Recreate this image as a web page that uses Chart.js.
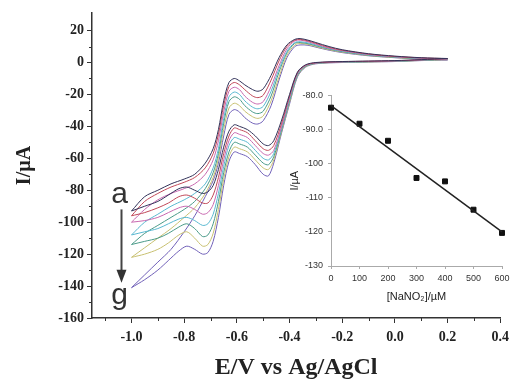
<!DOCTYPE html>
<html>
<head>
<meta charset="utf-8">
<script src="https://cdn.jsdelivr.net/npm/chart.js@4.4.1/dist/chart.umd.min.js"></script>
<style>
  html, body { margin: 0; padding: 0; background: #fff; }
  #wrap { position: relative; width: 515px; height: 380px; }
  #main { position: absolute; left: 0; top: 0; }
  #inset { position: absolute; left: 285px; top: 85px; }
</style>
</head>
<body>
<div id="wrap">
  <canvas id="main" width="515" height="380"></canvas>
  <canvas id="inset" width="230" height="225"></canvas>
</div>
<script>
/* ======================================================
   DATA
====================================================== */

// potentials (V) of the negative-going and positive-going sweeps
const sweepNeg = [0.2, 0.1, 0.0, -0.1, -0.2, -0.3, -0.34, -0.37, -0.40, -0.43, -0.46, -0.48, -0.50, -0.53, -0.56,
  -0.59, -0.61, -0.63, -0.65, -0.67, -0.69, -0.71, -0.73, -0.76, -0.79, -0.82, -0.86, -0.90, -0.95, -1.0];
const sweepPos = [-1.0, -0.95, -0.90, -0.85, -0.80, -0.76, -0.72, -0.69, -0.67, -0.65, -0.63, -0.61, -0.59, -0.57,
  -0.54, -0.52, -0.50, -0.47, -0.44, -0.41, -0.38, -0.36, -0.33, -0.30, -0.25, -0.2, -0.1, 0.0, 0.1, 0.2];

const curveNames = ["a", "b", "c", "d", "e", "f", "g"];
const curveColors = ["#33335a", "#c04858", "#c868b0", "#58b8d0", "#4a9a88", "#c8c070", "#7060b8"];

// current (µA) on the negative-going sweep
const negA = [2.5, 1.8, 1.2, 0.9, 0.6, 0.0, -1.5, -6, -20, -36, -49, -52, -51, -46, -42, -40, -39, -43, -53, -67, -77, -81, -82, -80, -78, -79, -83, -87, -90, -93];
const negB = [2.4, 1.7, 1.1, 0.8, 0.5, -0.2, -1.8, -6.5, -21, -38, -52, -55, -54, -49, -44, -42, -41, -46, -57, -72, -83, -88, -88, -85, -83, -84, -88, -91, -94, -96];
const negC = [2.3, 1.6, 1.0, 0.7, 0.4, -0.3, -2, -7, -22, -40, -55, -58, -57, -52, -47, -45, -44, -49, -61, -77, -89, -94, -95, -92, -90, -91, -94, -97, -99, -100];
const negD = [2.2, 1.5, 0.9, 0.6, 0.3, -0.4, -2.2, -7.5, -23, -41, -57, -61, -60, -55, -50, -48, -47, -52, -65, -82, -95, -101, -102, -99, -97, -98, -101, -104, -106, -108];
const negE = [2.0, 1.4, 0.8, 0.5, 0.2, -0.5, -2.5, -8, -24, -42, -59, -64, -63, -58, -53, -51, -50, -56, -69, -87, -101, -108, -109, -104, -101, -103, -107, -110, -112, -114];
const negF = [1.8, 1.3, 0.7, 0.4, 0.1, -0.6, -2.8, -8.5, -25, -43, -61, -67, -66, -61, -56, -54, -53, -59, -73, -92, -107, -114, -115, -110, -106, -108, -113, -117, -120, -122];
const negG = [1.6, 1.2, 0.6, 0.3, 0.0, -0.8, -3, -9, -26, -44, -63, -71, -70, -64, -59, -57, -56, -62, -77, -97, -112, -119, -120, -117, -115, -118, -124, -130, -136, -141];

// current (µA) on the positive-going sweep
const posA = [-93, -84, -80, -76, -73, -70, -63, -54, -42, -24, -12.5, -10, -11.5, -14, -17, -18, -16.5, -8, 3, 11, 14.5, 15, 14, 12.5, 10, 8, 5.5, 4, 3, 2.5];
const posB = [-96, -87, -82, -78, -75, -72, -66, -57, -45, -27, -15, -12.5, -14, -17, -21, -22, -20.5, -11, 1, 10, 14, 14.5, 13.5, 12, 9.5, 7.7, 5.3, 3.8, 2.9, 2.4];
const posC = [-100, -92, -86, -82, -79, -76, -70, -61, -49, -31, -18, -15.5, -17, -21, -25, -26, -24.5, -15, -2, 8.5, 13.5, 14, 13, 11.5, 9, 7.4, 5, 3.6, 2.7, 2.3];
const posD = [-108, -100, -95, -90, -86, -82, -76, -66, -54, -35, -21.5, -18.5, -20, -24, -28, -29, -27.5, -18, -4, 7, 12.5, 13, 12.3, 11, 8.7, 7.1, 4.8, 3.5, 2.6, 2.2];
const posE = [-114, -107, -102, -97, -92, -87, -79, -69, -57, -38, -24.5, -21.5, -23, -27, -31, -32, -30.5, -21, -6, 6, 12, 12.5, 11.8, 10.5, 8.4, 6.8, 4.6, 3.3, 2.4, 2.0];
const posF = [-122, -116, -110, -104, -97, -91, -82, -72, -60, -42, -28.5, -25.5, -27, -30.5, -34, -35, -33.5, -24, -9, 4.5, 11, 12, 11.3, 10, 8, 6.5, 4.4, 3.1, 2.2, 1.8];
const posG = [-141, -133, -125, -117, -106, -96, -84, -74, -63, -46, -32.5, -29.5, -31, -34.5, -38, -38.5, -36.5, -27, -11, 3, 10, 11, 10.8, 9.6, 7.7, 6.2, 4.2, 3.0, 2.1, 1.6];

const negCurves = [negA, negB, negC, negD, negE, negF, negG];
const posCurves = [posA, posB, posC, posD, posE, posF, posG];

// main axis ticks
const xTicks = [-1.0, -0.8, -0.6, -0.4, -0.2, 0.0, 0.2, 0.4];
const xMinor = [-1.1, -0.9, -0.7, -0.5, -0.3, -0.1, 0.1, 0.3];
const yTicks = [-160, -140, -120, -100, -80, -60, -40, -20, 0, 20];
const yMinor = [-150, -130, -110, -90, -70, -50, -30, -10, 10];

// inset: peak current vs nitrite concentration
const insetConc = [0, 100, 200, 300, 400, 500, 600];
const insetCurrent = [-83.6, -88.3, -93.3, -104.2, -105.2, -113.5, -120.3];
const fitConc = [0, 600];
const fitCurrent = [-83.0, -120.0];
const insetXTicks = [0, 100, 200, 300, 400, 500, 600];
const insetYTicks = [-130, -120, -110, -100, -90, -80];

/* ======================================================
   HELPERS
====================================================== */

const SERIF = "'Liberation Serif', 'Times New Roman', serif";
const SANS = "'Liberation Sans', Arial, sans-serif";

function toPoints(xs, ys) {
  return xs.map((x, i) => ({ x, y: ys[i] }));
}

const minorTicks = {
  id: "minorTicks",
  afterDraw(chart) {
    const { ctx, scales: { x, y } } = chart;
    ctx.save();
    ctx.strokeStyle = "#333";
    ctx.lineWidth = 1;
    ctx.beginPath();
    xMinor.forEach(v => {
      const px = Math.round(x.getPixelForValue(v)) + 0.5;
      ctx.moveTo(px, y.bottom);
      ctx.lineTo(px, y.bottom + 3);
    });
    yMinor.forEach(v => {
      const py = Math.round(y.getPixelForValue(v)) + 0.5;
      ctx.moveTo(x.left, py);
      ctx.lineTo(x.left - 3, py);
    });
    ctx.stroke();
    ctx.restore();
  }
};

// "a" -> "g" arrow inside the plot
const arrowLabels = {
  id: "arrowLabels",
  afterDatasetsDraw(chart) {
    const { ctx, scales: { x, y } } = chart;
    const ax = x.getPixelForValue(-1.038);
    const y0 = y.getPixelForValue(-92);
    const y1 = y.getPixelForValue(-138);
    ctx.save();
    ctx.fillStyle = "#333";
    ctx.strokeStyle = "#444";
    ctx.lineWidth = 2;
    ctx.beginPath();
    ctx.moveTo(ax, y0);
    ctx.lineTo(ax, y1 - 10);
    ctx.stroke();
    ctx.beginPath();
    ctx.moveTo(ax - 5, y1 - 13);
    ctx.lineTo(ax + 5, y1 - 13);
    ctx.lineTo(ax, y1);
    ctx.closePath();
    ctx.fill();
    ctx.font = "30px " + SANS;
    ctx.textAlign = "center";
    ctx.textBaseline = "alphabetic";
    ctx.fillText("a", x.getPixelForValue(-1.045), y.getPixelForValue(-88));
    ctx.fillText("g", x.getPixelForValue(-1.045), y.getPixelForValue(-151));
    ctx.restore();
  }
};

/* ======================================================
   MAIN CHART
====================================================== */

const cvDatasets = curveNames.map((name, i) => ({
  label: name,
  data: toPoints(sweepNeg, negCurves[i]).concat(toPoints(sweepPos, posCurves[i])),
  showLine: true,
  borderColor: curveColors[i],
  borderWidth: 1,
  pointRadius: 0,
  tension: 0.3,
  fill: false
}));

new Chart(document.getElementById("main"), {
  type: "scatter",
  data: { datasets: cvDatasets },
  options: {
    responsive: false,
    animation: false,
    devicePixelRatio: 1,
    layout: { padding: { top: 13, right: 12, left: 0, bottom: 0 } },
    plugins: { legend: { display: false }, tooltip: { enabled: false } },
    scales: {
      x: {
        type: "linear",
        min: -1.15,
        max: 0.4,
        afterBuildTicks: s => { s.ticks = xTicks.map(v => ({ value: v })); },
        afterFit: s => { s.height = 62; },
        ticks: {
          padding: 6,
          color: "#222",
          font: { family: SERIF, size: 14, weight: "bold" },
          callback: v => v.toFixed(1)
        },
        grid: { drawOnChartArea: false, tickLength: 5, color: "#333" },
        border: { color: "#333", width: 1.5 },
        title: {
          display: true,
          text: "E/V vs Ag/AgCl",
          color: "#222",
          padding: { top: 0, bottom: 0 },
          font: { family: SERIF, size: 24, weight: "bold", lineHeight: 1 }
        }
      },
      y: {
        min: -160,
        max: 31,
        afterBuildTicks: s => { s.ticks = yTicks.map(v => ({ value: v })); },
        afterFit: s => { s.width = 92; },
        ticks: {
          padding: 3,
          color: "#222",
          font: { family: SERIF, size: 14, weight: "bold" },
          callback: v => String(v)
        },
        grid: { drawOnChartArea: false, tickLength: 5, color: "#333" },
        border: { color: "#333", width: 1.5 },
        title: {
          display: true,
          text: "I/µA",
          color: "#222",
          padding: { top: 15, bottom: 0 },
          font: { family: SERIF, size: 20, weight: "bold", lineHeight: 1 }
        }
      }
    }
  },
  plugins: [minorTicks, arrowLabels]
});

/* ======================================================
   INSET CHART
====================================================== */

new Chart(document.getElementById("inset"), {
  type: "scatter",
  data: {
    datasets: [
      {
        label: "fit",
        data: toPoints(fitConc, fitCurrent),
        showLine: true,
        borderColor: "#222",
        borderWidth: 1.5,
        pointRadius: 0,
        clip: false
      },
      {
        label: "Ip",
        data: toPoints(insetConc, insetCurrent),
        pointStyle: "rect",
        pointRadius: 3.5,
        backgroundColor: "#111",
        borderColor: "#111",
        clip: false
      }
    ]
  },
  options: {
    responsive: false,
    animation: false,
    devicePixelRatio: 1,
    layout: { padding: { top: 10, right: 13, left: 0, bottom: 0 } },
    plugins: { legend: { display: false }, tooltip: { enabled: false } },
    scales: {
      x: {
        type: "linear",
        min: 0,
        max: 600,
        afterBuildTicks: s => { s.ticks = insetXTicks.map(v => ({ value: v })); },
        afterFit: s => { s.height = 44; },
        ticks: { padding: 4, color: "#333", font: { family: SANS, size: 9 } },
        grid: { drawOnChartArea: false, tickLength: 3, color: "#aaa" },
        border: { color: "#aaa", width: 1, dash: [2, 2] },
        title: {
          display: true,
          text: "[NaNO₂]/µM",
          color: "#222",
          padding: { top: 0, bottom: 8 },
          font: { family: SANS, size: 11, lineHeight: 1 }
        }
      },
      y: {
        min: -130,
        max: -80,
        afterBuildTicks: s => { s.ticks = insetYTicks.map(v => ({ value: v })); },
        afterFit: s => { s.width = 46; },
        ticks: {
          padding: 5,
          color: "#333",
          font: { family: SANS, size: 9 },
          callback: v => (v > -100 ? v.toFixed(1) : String(v))
        },
        grid: { drawOnChartArea: false, tickLength: 3, color: "#aaa" },
        border: { color: "#aaa", width: 1, dash: [2, 2] },
        title: {
          display: true,
          text: "I/µA",
          color: "#222",
          padding: { top: 4, bottom: 0 },
          font: { family: SANS, size: 11, lineHeight: 1 }
        }
      }
    }
  }
});
</script>
</body>
</html>
